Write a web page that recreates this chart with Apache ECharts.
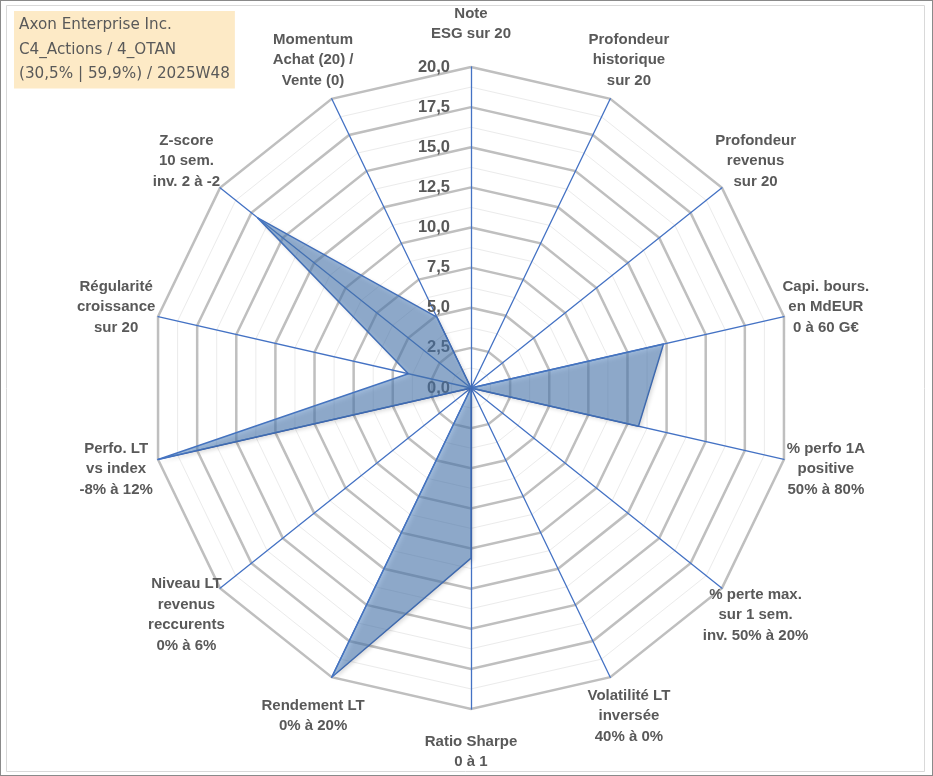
<!DOCTYPE html>
<html>
<head>
<meta charset="utf-8">
<script src="https://cdn.jsdelivr.net/npm/echarts@6/dist/echarts.min.js"></script>
<style>
html,body{margin:0;padding:0;background:#fff;}
#c{width:933px;height:776px;box-sizing:border-box;border:1px solid #8a8a8a;}
</style>
</head>
<body>
<div id="c"></div>
<script>
// Axes listed clockwise starting at the top
const indicatorNames = [
  'Note\nESG sur 20',
  'Profondeur\nhistorique\nsur 20',
  'Profondeur\nrevenus\nsur 20',
  'Capi. bours.\nen MdEUR\n0 à 60 G€',
  '% perfo 1A\npositive\n50% à 80%',
  '% perte max.\nsur 1 sem.\ninv. 50% à 20%',
  'Volatilité LT\ninversée\n40% à 0%',
  'Ratio Sharpe\n0 à 1',
  'Rendement LT\n0% à 20%',
  'Niveau LT\nrevenus\nreccurents\n0% à 6%',
  'Perfo. LT\nvs index\n-8% à 12%',
  'Régularité\ncroissance\nsur 20',
  'Z-score\n10 sem.\ninv. 2 à -2',
  'Momentum\nAchat (20) /\nVente (0)'
];
const scores = [0, 0, 0, 12.3, 10.7, 0, 0, 10.6, 20, 0, 20, 4.0, 17.0, 4.9];
const axisMax = 20;
const majorSplits = 8;   // ticks every 2,5
const minorSplits = 16;  // light rings every 1,25
const titleLines = ['Axon Enterprise Inc.', 'C4_Actions / 4_OTAN', '(30,5% | 59,9%) / 2025W48'];

// ECharts places indicators counter-clockwise: reorder so they run clockwise
const order = [0];
for (let i = indicatorNames.length - 1; i >= 1; i--) order.push(i);
const ecNames = order.map(i => indicatorNames[i]);
const ecScores = order.map(i => scores[i]);

const CENTER = [470, 387];
const RADIUS = 321;

function indicators(withLabel) {
  return ecNames.map((n, k) => {
    const o = { name: n, min: 0, max: axisMax };
    if (withLabel && k === 0) {
      o.axisLabel = {
        show: true,
        showMinLabel: true,
        showMaxLabel: true,
        formatter: v => Number(v).toFixed(1).replace('.', ','),
        color: '#595959',
        fontWeight: 'bold',
        fontSize: 16.5,
        fontFamily: 'Liberation Sans, Arial, sans-serif',
        margin: 21
      };
    }
    return o;
  });
}

const chart = echarts.init(document.getElementById('c'), null, { renderer: 'canvas' });
chart.setOption({
  animation: false,
  backgroundColor: '#ffffff',
  title: {
    text: titleLines.join('\n'),
    left: 13,
    top: 10,
    padding: [2, 5, 2, 5],
    backgroundColor: '#FDEAC6',
    textStyle: {
      fontFamily: 'DejaVu Sans, sans-serif',
      fontSize: 15.2,
      fontWeight: 'normal',
      color: '#595959',
      lineHeight: 24.5
    }
  },
  graphic: [{
    type: 'rect',
    shape: { x: 5.5, y: 4.5, width: 918, height: 766 },
    style: { fill: 'none', stroke: '#d9d9d9', lineWidth: 1 },
    silent: true,
    z: -1
  }],
  radar: [
    {
      center: CENTER, radius: RADIUS, shape: 'polygon', startAngle: 90,
      splitNumber: minorSplits,
      indicator: indicators(false),
      axisName: { show: false },
      axisLine: { show: false }, axisTick: { show: false }, axisLabel: { show: false },
      splitArea: { show: false },
      splitLine: { lineStyle: { color: '#ebebeb', width: 1 } },
      z: 1
    },
    {
      center: CENTER, radius: RADIUS, shape: 'polygon', startAngle: 90,
      splitNumber: majorSplits,
      indicator: indicators(false),
      axisName: { show: false },
      axisLine: { show: false }, axisTick: { show: false }, axisLabel: { show: false },
      splitArea: { show: false },
      splitLine: { lineStyle: { color: '#bfbfbf', width: 2.5 } },
      z: 2
    },
    {
      center: CENTER, radius: RADIUS, shape: 'polygon', startAngle: 90,
      splitNumber: majorSplits,
      indicator: indicators(true),
      nameGap: 43,
      axisName: {
        show: true,
        color: '#595959',
        fontWeight: 'bold',
        fontSize: 15,
        lineHeight: 20.5,
        fontFamily: 'Liberation Sans, Arial, sans-serif',
        align: 'center',
        verticalAlign: 'middle'
      },
      axisLine: { show: true, lineStyle: { color: '#4472C4', width: 1.3 } },
      axisTick: { show: false },
      axisLabel: { show: false },
      splitArea: { show: false },
      splitLine: { show: false },
      z: 3
    }
  ],
  series: [{
    type: 'radar',
    radarIndex: 2,
    z: 10,
    symbol: 'none',
    data: [{ value: ecScores, name: 'Score' }],
    lineStyle: { color: '#4472C4', width: 1.5 },
    areaStyle: {
      color: 'rgba(79,129,189,0.77)',
      shadowBlur: 4, shadowColor: 'rgba(0,0,0,0.3)', shadowOffsetX: 2, shadowOffsetY: 2
    }
  }]
});
</script>
</body>
</html>
